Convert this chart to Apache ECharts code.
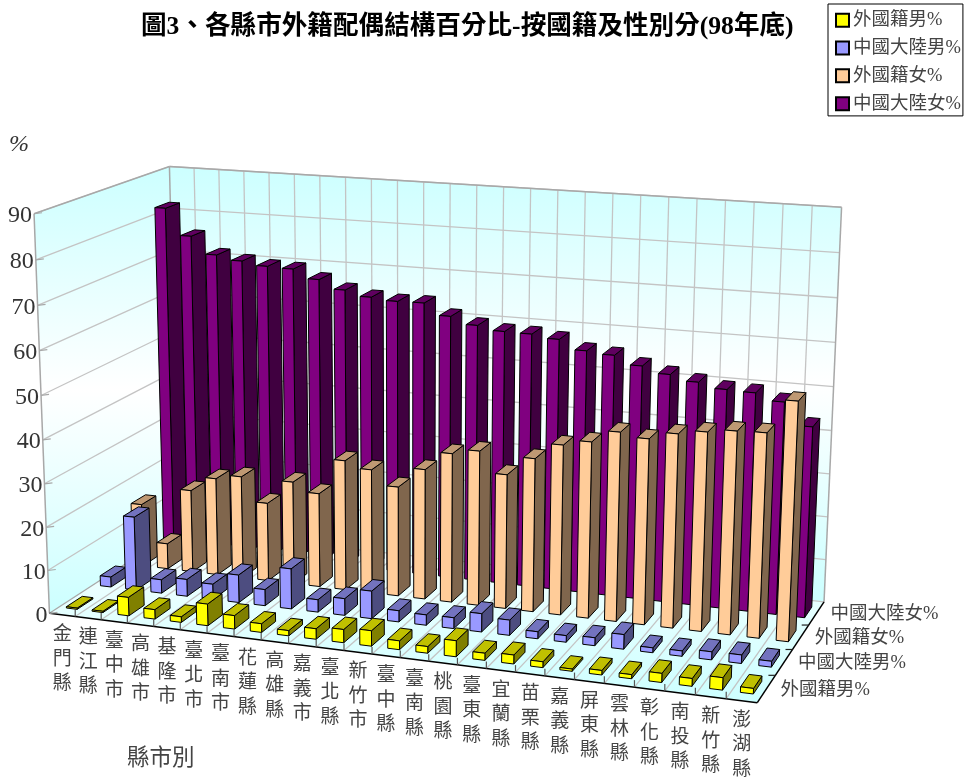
<!DOCTYPE html>
<html><head><meta charset="utf-8">
<style>html,body{margin:0;padding:0;background:#fff}#c{width:968px;height:778px}</style>
<script src="https://cdn.jsdelivr.net/npm/echarts@6/dist/echarts.min.js"></script>
</head><body><div id="c"></div>
<script>
const categories = ['金門縣','連江縣','臺中市','高雄市','基隆市','臺北市','臺南市','花蓮縣','高雄縣','嘉義市','臺北縣','新竹市','臺中縣','臺南縣','桃園縣','臺東縣','宜蘭縣','苗栗縣','嘉義縣','屏東縣','雲林縣','彰化縣','南投縣','新竹縣','澎湖縣'];
const seriesNames = ['外國籍男%','中國大陸男%','外國籍女%','中國大陸女%'];
const foreignMale = [0.3,0.3,4.3,2.2,1.3,5,3.1,2,1.2,2.4,3,3.5,2,1.5,3.6,1.6,2,1.3,0.5,1,0.9,2,1.7,2.7,1.2];
const chinaMale = [2.4,17.4,3.2,4,3.6,6.5,3.8,9.4,2.9,3.9,6.4,2.6,2.4,2.5,4.2,3.5,1.6,1.5,1.8,3.3,1.1,1.2,1.8,1.9,1.3];
const foreignFemale = [15,6.1,19.7,23.2,24.3,18.6,24.3,22.2,30.6,29.1,25.7,30.4,34.7,35.9,31.1,35.4,39.1,40.4,43.2,42.3,44,45,45.8,46,53.5];
const chinaFemale = [82.3,76.1,72.1,71.1,70.3,70.1,68.1,66.1,64.9,64.4,64.5,61.9,60.3,59.4,59.3,58.6,56.5,56,54.1,52.7,51.5,50.4,50.2,48.7,43.7];
const valueTicks = [0,10,20,30,40,50,60,70,80,90];
const titleText = '圖3、各縣市外籍配偶結構百分比-按國籍及性別分(98年底)';

const SERIF = '"Liberation Serif","Noto Sans CJK TC",serif';
const palette = [
  {front:'#FFFF00',side:'#808000',top:'#C0C000'},
  {front:'#9999FF',side:'#4D4D80',top:'#7373BF'},
  {front:'#FFCC99',side:'#80664D',top:'#BF9973'},
  {front:'#800080',side:'#400040',top:'#600060'}
];
const N = categories.length, D = seriesNames.length, VMAX = 90;

// perspective camera of the plot box: (category, depth, height) fractions -> page
const anchors = [
 [0,0,0,50,613],[1,0,0,757,704],[1,1,0,824,601],[0,1,0,177,532],
 [0,0,1,33,214],[0,1,1,170,166],[1,1,1,842,208],
 [1/25,0,0,75,616],[24/25,0,0,726,700],[0,1,8/9,170.5,208],
 [18/25,1,1,640,196.5],[5/25,1,1,295,174],
 [0,0,8/9,35,260],[0,0,6/9,39.5,350],[0,0,3/9,45,483],[0,0,1/9,49,570],
 [1,1,5/9,834,385],[1,1,1/9,826,558]
];
function solveCamera(pts){
  const A=[],B=[];
  pts.forEach(([u,v,w,x0,y0])=>{
    const x=x0/1000,y=y0/1000;
    A.push([u,v,w,1,0,0,0,0,-x*u,-x*v,-x*w]);B.push(x);
    A.push([0,0,0,0,u,v,w,1,-y*u,-y*v,-y*w]);B.push(y);
  });
  const n=11,M=[];
  for(let i=0;i<n;i++){M.push([]);for(let j=0;j<=n;j++){let s=0;
    for(let k=0;k<A.length;k++)s+=A[k][i]*(j<n?A[k][j]:B[k]);
    M[i].push(s);}}
  for(let i=0;i<n;i++){let p=i;for(let r=i+1;r<n;r++)if(Math.abs(M[r][i])>Math.abs(M[p][i]))p=r;
    [M[i],M[p]]=[M[p],M[i]];
    for(let r=0;r<n;r++){if(r===i)continue;const f=M[r][i]/M[i][i];for(let c=i;c<=n;c++)M[r][c]-=f*M[i][c];}}
  return M.map((r,i)=>r[n]/r[i]);
}
const m = solveCamera(anchors);
function P(u,v,w){
  const d=m[8]*u+m[9]*v+m[10]*w+1;
  return [1000*(m[0]*u+m[1]*v+m[2]*w+m[3])/d,1000*(m[4]*u+m[5]*v+m[6]*w+m[7])/d];
}
const BW=0.42,BD=0.46;
function poly(points,fill,stroke,lw){return {type:'polygon',shape:{points},style:{fill,stroke:stroke||'#000',lineWidth:lw==null?1:lw},silent:true};}
function line(a,b,stroke,lw){return {type:'line',shape:{x1:a[0],y1:a[1],x2:b[0],y2:b[1]},style:{stroke,lineWidth:lw||1,fill:null},silent:true};}
function text(t,x,y,size,align,vAlign,extra){return {type:'text',style:Object.assign({text:t,x,y,font:size+'px '+SERIF,fill:'#333',align,verticalAlign:vAlign},extra||{}),silent:true};}

function barItem(d){
  return function(params,api){
    const cs=params.coordSys;
    const c=api.coord([api.value(0),api.value(1)]);
    const u=(c[0]-cs.x)/cs.width, w=(cs.y+cs.height-c[1])/cs.height;
    const hu=api.size([1,0])[0]/cs.width*BW/2;
    const v0=(d+0.5-BD/2)/D, v1=(d+0.5+BD/2)/D;
    const u0=u-hu,u1=u+hu;
    const f=palette[d];
    return {type:'group',children:[
      poly([P(u1,v0,0),P(u1,v1,0),P(u1,v1,w),P(u1,v0,w)],f.side),
      poly([P(u0,v0,w),P(u1,v0,w),P(u1,v1,w),P(u0,v1,w)],f.top),
      poly([P(u0,v0,0),P(u1,v0,0),P(u1,v0,w),P(u0,v0,w)],f.front)
    ]};
  };
}
function frameItem(params,api){
  const G='#C4C4C4',E='#A8A8A8';
  const grad=(a,b,c)=>new echarts.graphic.LinearGradient(0,0,0,1,[{offset:0,color:a},{offset:.5,color:b},{offset:1,color:c}]);
  const ch=[];
  ch.push(poly([P(0,1,0),P(1,1,0),P(1,1,1),P(0,1,1)],grad('#CCFFFF','#FFFFFF','#CCFFFF'),'none',0));
  ch.push(poly([P(0,0,0),P(0,1,0),P(0,1,1),P(0,0,1)],grad('#CCFFFF','#FFFFFF','#CCFFFF'),'none',0));
  ch.push(poly([P(0,0,0),P(1,0,0),P(1,1,0),P(0,1,0)],new echarts.graphic.LinearGradient(0,0,0,1,[{offset:0,color:'#FAFFFF'},{offset:1,color:'#CCFFFF'}]),'none',0));
  valueTicks.forEach(t=>{ if(t===0)return; const w=t/VMAX;
    ch.push(line(P(0,0,w),P(0,1,w),G,1.3));
    ch.push(line(P(0,1,w),P(1,1,w),G,1.3));
  });
  for(let i=1;i<N;i++){const u=i/N;
    ch.push(line(P(u,1,0),P(u,1,1),G,1.3));
    ch.push(line(P(u,0,0),P(u,1,0),G,1.3));
  }
  ch.push(line(P(0,0,0),P(0,0,1),E,1.5));
  ch.push(line(P(0,0,1),P(0,1,1),E,1.5));
  ch.push(line(P(0,1,0),P(0,1,1),E,1.5));
  ch.push(line(P(0,1,1),P(1,1,1),E,1.5));
  ch.push(line(P(1,1,0),P(1,1,1),E,1.5));
  ch.push(line(P(0,1,0),P(1,1,0),G,1.3));
  ch.push(line(P(0,0,0),P(0,1,0),E,1.3));
  ch.push(line(P(0,0,0),P(1,0,0),'#000',1.5));
  ch.push(line(P(1,0,0),P(1,1,0),'#000',1.5));
  for(let i=1;i<N;i++){const p=P(i/N,0,0);ch.push(line(p,[p[0],p[1]-7],'#555',1.2));}
  for(let j=1;j<D;j++){const p=P(1,j/D,0);ch.push(line(p,[p[0]-7,p[1]],'#222',1.2));}
  valueTicks.forEach(t=>{const p=P(0,0,t/VMAX);
    ch.push(line(p,[p[0]+8,p[1]-1],E,1.2));
    ch.push(text(String(t),p[0]-2,p[1]+2,24,'right','middle'));
  });
  categories.forEach((c,i)=>{const p=P((i+.5)/N,0,0);
    ch.push(text(c.split('').join('\n'),p[0],p[1]+8,19,'center','top',{lineHeight:24.5,fill:'#444'}));
  });
  seriesNames.forEach((s,j)=>{const p=P(1,(j+.5)/D,0);
    ch.push(text(s,p[0]+14,p[1]+1,18.5,'left','middle',{fill:'#444'}));
  });
  ch.push(text('%',9,145,24,'left','middle',{font:'italic 24px '+SERIF}));
  ch.push(text('縣市別',127,759,22.5,'left','middle',{fill:'#444'}));
  return {type:'group',children:ch};
}
const values=[foreignMale,chinaMale,foreignFemale,chinaFemale];
const barSeries=[3,2,1,0].map(d=>({
  name:seriesNames[d],type:'custom',coordinateSystem:'cartesian2d',
  data:values[d].map((v,i)=>[i,v]),encode:{x:0,y:1},
  itemStyle:{color:palette[d].front,borderColor:'#000',borderWidth:1},
  renderItem:barItem(d),silent:true,animation:false,clip:false
}));
const chart=echarts.init(document.getElementById('c'),null,{renderer:'canvas',width:968,height:778});
chart.setOption({
  animation:false,backgroundColor:'#fff',
  title:{text:titleText,left:141,top:15,padding:0,textStyle:{fontFamily:SERIF,fontWeight:'bold',fontSize:25.6,color:'#000'}},
  legend:{data:seriesNames,orient:'vertical',left:828,top:4,width:139,padding:[7,2,3,7],itemGap:9.3,itemWidth:13,itemHeight:13,icon:'rect',
    borderColor:'#000',borderWidth:1,backgroundColor:'#fff',selectedMode:false,
    textStyle:{fontFamily:SERIF,fontSize:18.5,color:'#444',padding:[0,0,0,-1],lineHeight:18}},
  grid:{left:100,top:100,width:500,height:500,show:false},
  xAxis:{type:'category',data:categories,show:false,boundaryGap:true},
  yAxis:{type:'value',min:0,max:VMAX,show:false},
  series:[{type:'custom',coordinateSystem:'cartesian2d',name:'frame',data:[[0,0]],encode:{x:0,y:1},renderItem:frameItem,silent:true,animation:false,clip:false}].concat(barSeries)
});
</script></body></html>
